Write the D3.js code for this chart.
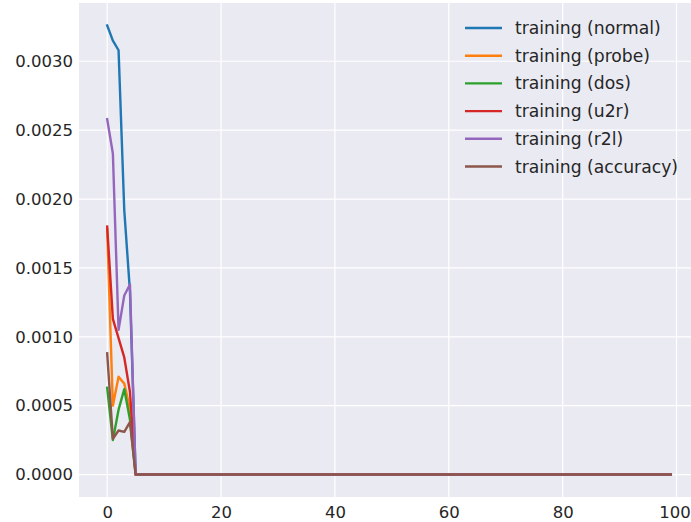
<!DOCTYPE html>
<html>
<head>
<meta charset="utf-8">
<script src="https://cdn.jsdelivr.net/npm/d3@7"></script>
<style>
  html, body { margin: 0; padding: 0; background: #ffffff; }
  svg { display: block; font-family: "DejaVu Sans", sans-serif; }
</style>
</head>
<body>
<svg id="chart" width="691" height="522"></svg>
<script>
// Per-epoch training losses, one array per traffic class (epochs 0..99)
const normal = [0.00326, 0.00315, 0.00308, 0.00192, 0.00133,
  0, 0, 0, 0, 0, 0, 0, 0, 0, 0, 0, 0, 0, 0, 0, 0, 0, 0, 0,
  0, 0, 0, 0, 0, 0, 0, 0, 0, 0, 0, 0, 0, 0, 0, 0, 0, 0, 0,
  0, 0, 0, 0, 0, 0, 0, 0, 0, 0, 0, 0, 0, 0, 0, 0, 0, 0, 0,
  0, 0, 0, 0, 0, 0, 0, 0, 0, 0, 0, 0, 0, 0, 0, 0, 0, 0, 0,
  0, 0, 0, 0, 0, 0, 0, 0, 0, 0, 0, 0, 0, 0, 0, 0, 0, 0, 0];
const probe = [0.00178, 0.00050, 0.00071, 0.00066, 0.00048,
  0, 0, 0, 0, 0, 0, 0, 0, 0, 0, 0, 0, 0, 0, 0, 0, 0, 0, 0,
  0, 0, 0, 0, 0, 0, 0, 0, 0, 0, 0, 0, 0, 0, 0, 0, 0, 0, 0,
  0, 0, 0, 0, 0, 0, 0, 0, 0, 0, 0, 0, 0, 0, 0, 0, 0, 0, 0,
  0, 0, 0, 0, 0, 0, 0, 0, 0, 0, 0, 0, 0, 0, 0, 0, 0, 0, 0,
  0, 0, 0, 0, 0, 0, 0, 0, 0, 0, 0, 0, 0, 0, 0, 0, 0, 0, 0];
const dos = [0.00063, 0.00025, 0.00047, 0.00062, 0.00040,
  0, 0, 0, 0, 0, 0, 0, 0, 0, 0, 0, 0, 0, 0, 0, 0, 0, 0, 0,
  0, 0, 0, 0, 0, 0, 0, 0, 0, 0, 0, 0, 0, 0, 0, 0, 0, 0, 0,
  0, 0, 0, 0, 0, 0, 0, 0, 0, 0, 0, 0, 0, 0, 0, 0, 0, 0, 0,
  0, 0, 0, 0, 0, 0, 0, 0, 0, 0, 0, 0, 0, 0, 0, 0, 0, 0, 0,
  0, 0, 0, 0, 0, 0, 0, 0, 0, 0, 0, 0, 0, 0, 0, 0, 0, 0, 0];
const u2r = [0.00180, 0.00113, 0.00099, 0.00085, 0.00060,
  0, 0, 0, 0, 0, 0, 0, 0, 0, 0, 0, 0, 0, 0, 0, 0, 0, 0, 0,
  0, 0, 0, 0, 0, 0, 0, 0, 0, 0, 0, 0, 0, 0, 0, 0, 0, 0, 0,
  0, 0, 0, 0, 0, 0, 0, 0, 0, 0, 0, 0, 0, 0, 0, 0, 0, 0, 0,
  0, 0, 0, 0, 0, 0, 0, 0, 0, 0, 0, 0, 0, 0, 0, 0, 0, 0, 0,
  0, 0, 0, 0, 0, 0, 0, 0, 0, 0, 0, 0, 0, 0, 0, 0, 0, 0, 0];
const r2l = [0.00258, 0.00233, 0.00105, 0.00130, 0.00138,
  0, 0, 0, 0, 0, 0, 0, 0, 0, 0, 0, 0, 0, 0, 0, 0, 0, 0, 0,
  0, 0, 0, 0, 0, 0, 0, 0, 0, 0, 0, 0, 0, 0, 0, 0, 0, 0, 0,
  0, 0, 0, 0, 0, 0, 0, 0, 0, 0, 0, 0, 0, 0, 0, 0, 0, 0, 0,
  0, 0, 0, 0, 0, 0, 0, 0, 0, 0, 0, 0, 0, 0, 0, 0, 0, 0, 0,
  0, 0, 0, 0, 0, 0, 0, 0, 0, 0, 0, 0, 0, 0, 0, 0, 0, 0, 0];
const accuracy = [0.00088, 0.00026, 0.00032, 0.00031, 0.00038,
  0, 0, 0, 0, 0, 0, 0, 0, 0, 0, 0, 0, 0, 0, 0, 0, 0, 0, 0,
  0, 0, 0, 0, 0, 0, 0, 0, 0, 0, 0, 0, 0, 0, 0, 0, 0, 0, 0,
  0, 0, 0, 0, 0, 0, 0, 0, 0, 0, 0, 0, 0, 0, 0, 0, 0, 0, 0,
  0, 0, 0, 0, 0, 0, 0, 0, 0, 0, 0, 0, 0, 0, 0, 0, 0, 0, 0,
  0, 0, 0, 0, 0, 0, 0, 0, 0, 0, 0, 0, 0, 0, 0, 0, 0, 0, 0];

const seriesNames = ["training (normal)", "training (probe)", "training (dos)",
                     "training (u2r)", "training (r2l)", "training (accuracy)"];
const seriesValues = [normal, probe, dos, u2r, r2l, accuracy];
const xTicks = [0, 20, 40, 60, 80, 100];
const yTicks = [0, 0.0005, 0.0010, 0.0015, 0.0020, 0.0025, 0.0030];

const colors = ["#1f77b4", "#ff7f0e", "#2ca02c", "#d62728", "#9467bd", "#8c564b"];

const svg = d3.select("#chart");
const plot = { left: 79, top: 3, right: 699, bottom: 497 };
const tickFont = 16.5;
const legendFont = 17.2;
const textColor = "#262626";
const lineWidth = 2.4;

// Axis limits padded by 5% of the data span on each side
const n = normal.length;
const xSpan = n - 1;
const xScale = d3.scaleLinear()
  .domain([-0.05 * xSpan, xSpan + 0.05 * xSpan])
  .range([plot.left, plot.right]);

const allVals = seriesValues.flat();
const yMin = d3.min(allVals), yMax = d3.max(allVals);
const ySpan = yMax - yMin;
const yScale = d3.scaleLinear()
  .domain([yMin - 0.05 * ySpan, yMax + 0.05 * ySpan])
  .range([plot.bottom, plot.top]);

svg.append("clipPath").attr("id", "plotclip")
  .append("rect")
  .attr("x", plot.left).attr("y", plot.top)
  .attr("width", plot.right - plot.left).attr("height", plot.bottom - plot.top);

// Panel background
svg.append("rect")
  .attr("x", plot.left).attr("y", plot.top)
  .attr("width", plot.right - plot.left).attr("height", plot.bottom - plot.top)
  .attr("fill", "#eaeaf2");

// Grid
const grid = svg.append("g").attr("stroke", "#ffffff").attr("stroke-width", 1.2);
grid.selectAll("line.gx").data(xTicks).join("line")
  .attr("x1", d => xScale(d)).attr("x2", d => xScale(d))
  .attr("y1", plot.top).attr("y2", plot.bottom);
grid.selectAll("line.gy").data(yTicks).join("line")
  .attr("x1", plot.left).attr("x2", plot.right)
  .attr("y1", d => yScale(d)).attr("y2", d => yScale(d));

// Axes (labels only, no spines or tick marks)
const xAxis = d3.axisBottom(xScale).tickValues(xTicks).tickSize(0).tickPadding(9)
  .tickFormat(d3.format("d"));
const yAxis = d3.axisLeft(yScale).tickValues(yTicks).tickSize(0).tickPadding(6)
  .tickFormat(d3.format(".4f"));

const gx = svg.append("g").attr("transform", `translate(0,${plot.bottom})`).call(xAxis);
const gy = svg.append("g").attr("transform", `translate(${plot.left},0)`).call(yAxis);
[gx, gy].forEach(g => {
  g.select(".domain").remove();
  g.selectAll("text")
    .attr("fill", textColor)
    .style("font-size", tickFont + "px")
    .style("font-family", "'DejaVu Sans', sans-serif");
});
// keep the last x label inside the page edge
gx.selectAll(".tick text").filter(d => d === 100).attr("dx", "-2");

// Lines
const line = d3.line().x((d, i) => xScale(i)).y(d => yScale(d));
svg.append("g").attr("clip-path", "url(#plotclip)")
  .selectAll("path").data(seriesValues).join("path")
  .attr("d", d => line(d))
  .attr("fill", "none")
  .attr("stroke", (d, i) => colors[i])
  .attr("stroke-width", lineWidth)
  .attr("stroke-linejoin", "round")
  .attr("stroke-linecap", "square");

// Legend (no frame)
const legend = svg.append("g").attr("transform", "translate(465,28)");
const rowH = 27.7;
const rows = legend.selectAll("g").data(seriesNames).join("g")
  .attr("transform", (d, i) => `translate(0,${i * rowH})`);
rows.append("line")
  .attr("x1", 0).attr("x2", 37).attr("y1", 0).attr("y2", 0)
  .attr("stroke", (d, i) => colors[i]).attr("stroke-width", lineWidth);
rows.append("text")
  .attr("x", 50).attr("y", 0).attr("dy", "0.35em")
  .attr("fill", textColor)
  .style("font-size", legendFont + "px")
  .text(d => d);
</script>
</body>
</html>
